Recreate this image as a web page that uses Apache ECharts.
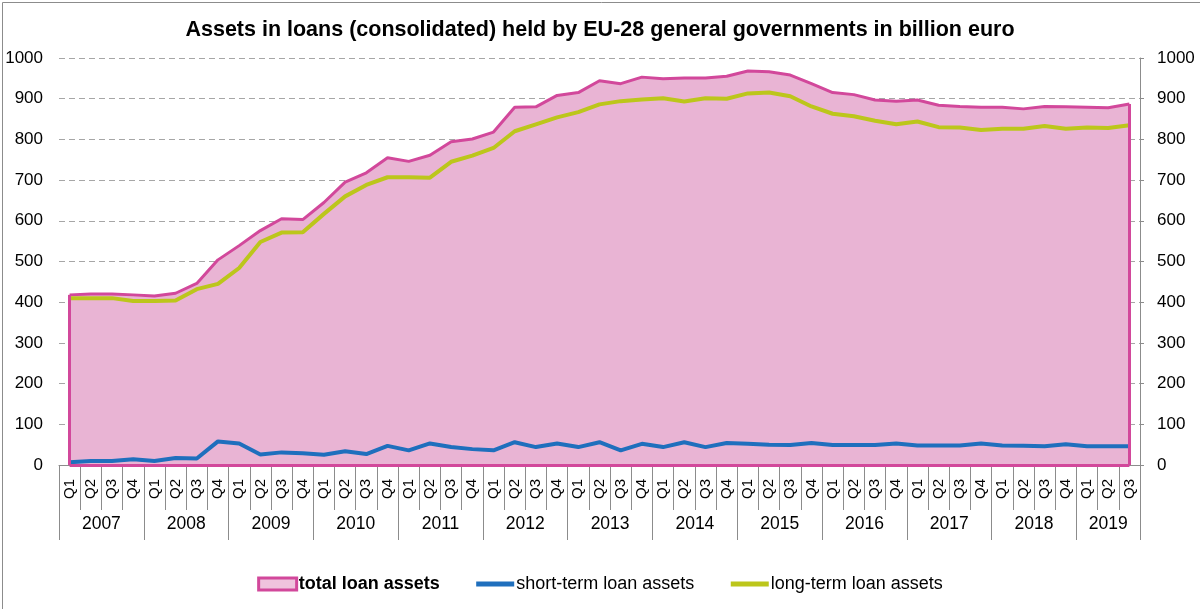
<!DOCTYPE html>
<html>
<head>
<meta charset="utf-8">
<script src="https://cdn.jsdelivr.net/npm/echarts@6/dist/echarts.min.js"></script>
<style>
html,body{margin:0;padding:0;background:#fff;}
#chart{width:1200px;height:609px;}
</style>
</head>
<body>
<div id="chart"></div>
<script>
// ---- data ----
var years = ['2007','2008','2009','2010','2011','2012','2013','2014','2015','2016','2017','2018','2019'];
var quarters = ['Q1','Q2','Q3','Q4'];
var quartersInYear = [4,4,4,4,4,4,4,4,4,4,4,4,3];
var totalLoans = [418,420,420,418,415,422,446,504,539,576,605,603,645,695,718,755,746,761,794,801,818,879,880,908,915,944,937,953,949,951,951,955,968,966,958,937,915,910,897,894,897,884,881,879,879,875,881,880,879,878,887];
var shortTerm = [7,10,10,14,10,17,16,58,53,26,31,29,25,34,27,47,36,53,44,39,36,56,44,53,44,56,36,52,44,56,44,54,52,50,49,54,49,49,49,53,48,48,48,53,48,47,46,51,46,46,46];
var longTerm = [410,410,410,403,403,404,432,445,484,548,571,572,617,660,688,707,707,706,745,760,779,820,837,854,867,886,894,898,901,893,901,900,913,915,906,881,863,857,846,837,844,830,829,823,826,826,833,826,829,828,835];
var yTicks = [0,100,200,300,400,500,600,700,800,900,1000];

// ---- build category arrays ----
var cats = [];
years.forEach(function(y, k){
  for (var q = 0; q < quartersInYear[k]; q++) cats.push(quarters[q]);
});
var n = cats.length;
var yearCats = [];
var yearBounds = {};
for (var j = 0; j <= 2 * n; j++) yearCats.push('');
var start = 0;
years.forEach(function(y, k){
  var s = start * 2, e = (start + quartersInYear[k]) * 2;
  yearBounds[s] = true; yearBounds[e] = true;
  yearCats[(s + e) / 2] = y;
  start += quartersInYear[k];
});

var font = 'Liberation Sans, Arial, sans-serif';
var gridCol = '#a6a6a6';
var axisCol = '#8c8c8c';
var pinkLine = '#d2489b';
var pinkFill = '#e9b4d4';
var blue = '#1f6fbd';
var green = '#bcc61b';

var chart = echarts.init(document.getElementById('chart'));
chart.setOption({
  backgroundColor: '#fff',
  animation: false,
  title: {
    text: 'Assets in loans (consolidated) held by EU-28 general governments in billion euro',
    left: 'center', top: 14,
    textStyle: {fontFamily: font, fontSize: 21.5, fontWeight: 'bold', color: '#000'}
  },
  graphic: [{
    type: 'rect', left: 0, top: 0,
    shape: {x: 0.5, y: 0.5, width: 1198, height: 607},
    style: {fill: 'none', stroke: '#8c8c8c', lineWidth: 1},
    silent: true
  }],
  legend: {
    left: 'center', top: 570,
    itemWidth: 38, itemHeight: 12, itemGap: 34,
    textStyle: {fontFamily: font, fontSize: 18, color: '#000', padding: [0,0,0,-3]},
    data: [
      {name: 'total loan assets', icon: 'rect',
       itemStyle: {color: '#efc3dd', borderColor: pinkLine, borderWidth: 3},
       textStyle: {fontWeight: 'bold', fontSize: 18, fontFamily: font}},
      {name: 'short-term loan assets', lineStyle: {width: 5},
       itemStyle: {color: 'rgba(0,0,0,0)', borderWidth: 0, opacity: 0}},
      {name: 'long-term loan assets', lineStyle: {width: 5},
       itemStyle: {color: 'rgba(0,0,0,0)', borderWidth: 0, opacity: 0}}
    ]
  },
  grid: {left: 59, right: 60, top: 58, bottom: 144, containLabel: false},
  xAxis: [{
    type: 'category', data: cats, boundaryGap: true, position: 'bottom',
    axisLine: {show: true, lineStyle: {color: axisCol, width: 1}},
    axisTick: {show: true, interval: 0, length: 45, lineStyle: {color: axisCol}},
    axisLabel: {interval: 0, rotate: 90, margin: 14, fontFamily: font, fontSize: 15, color: '#000'},
    splitLine: {show: false}
  }, {
    type: 'category', data: yearCats, boundaryGap: false, position: 'bottom',
    axisLine: {show: false},
    axisTick: {show: true, length: 75, lineStyle: {color: axisCol},
      interval: function(i){ return !!yearBounds[i]; }},
    axisLabel: {interval: 0, margin: 50, fontFamily: font, fontSize: 17.5, color: '#000'},
    splitLine: {show: false}
  }],
  yAxis: [{
    type: 'value', min: 0, max: 1000, interval: 100, position: 'left',
    axisLine: {show: false}, axisTick: {show: false},
    axisLabel: {margin: 16, fontFamily: font, fontSize: 17, color: '#000',
      formatter: function(v){ return String(v); }},
    splitLine: {show: true, lineStyle: {color: gridCol, type: [6, 4], width: 1}}
  }, {
    type: 'value', min: 0, max: 1000, interval: 100, position: 'right',
    axisLine: {show: true, lineStyle: {color: axisCol}},
    axisTick: {show: true, length: 4, lineStyle: {color: axisCol}},
    axisLabel: {margin: 17, fontFamily: font, fontSize: 17, color: '#000',
      formatter: function(v){ return String(v); }},
    splitLine: {show: false}
  }],
  series: [{
    name: 'total loan assets', type: 'line', data: totalLoans,
    symbol: 'none', lineStyle: {color: pinkLine, width: 3},
    itemStyle: {color: pinkLine},
    areaStyle: {color: pinkFill, opacity: 1},
    z: 2,
    markLine: {
      silent: true, symbol: 'none', label: {show: false},
      lineStyle: {color: pinkLine, width: 3, type: 'solid'},
      data: [
        [{coord: [0, 0]}, {coord: [0, totalLoans[0]]}],
        [{coord: [n - 1, 0]}, {coord: [n - 1, totalLoans[n - 1]]}],
        [{coord: [0, 0]}, {coord: [n - 1, 0]}]
      ]
    }
  }, {
    name: 'short-term loan assets', type: 'line', data: shortTerm,
    symbol: 'none', lineStyle: {color: blue, width: 4},
    itemStyle: {color: blue}, z: 4
  }, {
    name: 'long-term loan assets', type: 'line', data: longTerm,
    symbol: 'none', lineStyle: {color: green, width: 4},
    itemStyle: {color: green}, z: 4
  }]
});
</script>
</body>
</html>
